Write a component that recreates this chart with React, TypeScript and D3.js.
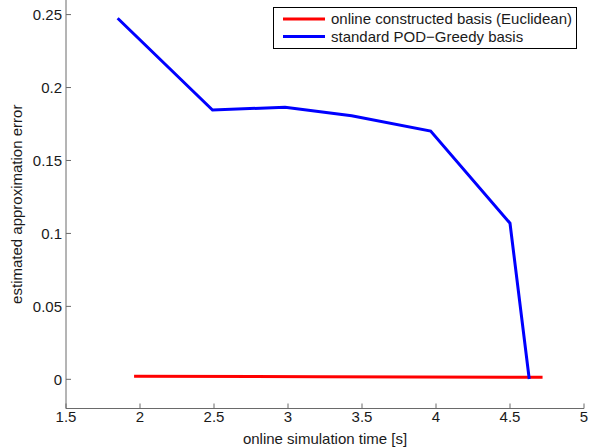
import React from "react";
import * as d3 from "d3";

const blueX = [1.849, 2.49, 2.98, 3.43, 3.964, 4.5, 4.63];
const blueY = [0.2475, 0.1846, 0.1865, 0.1807, 0.1702, 0.107, 0.0002];
const redX = [1.96, 3.22, 4.72];
const redY = [0.0021, 0.0018, 0.0014];
const xTicks = [1.5, 2, 2.5, 3, 3.5, 4, 4.5, 5];
const yTicks = [0, 0.05, 0.1, 0.15, 0.2, 0.25];
const seriesNames = ["online constructed basis (Euclidean)", "standard POD\u2212Greedy basis"];
const seriesColors = ["#ff0000", "#0000ff"];

const W = 601;
const H = 448;
const FONT = "'Liberation Sans', Arial, Helvetica, sans-serif";

export default function App() {
  const x = d3.scaleLinear().domain([1.5, 5]).range([66, 584]);
  const y = d3.scaleLinear().domain([-0.02, 0.26]).range([408.5, 0]);
  const line = d3
    .line<[number, number]>()
    .x((d) => x(d[0]))
    .y((d) => y(d[1]));
  const red: [number, number][] = redX.map((v, i) => [v, redY[i]]);
  const blue: [number, number][] = blueX.map((v, i) => [v, blueY[i]]);
  const axisColor = "#6a6a6a";
  const textColor = "#1a1a1a";
  const x0 = x(1.5);
  const yb = y(-0.02);
  const fmt = (v: number) => String(v);

  return (
    <svg
      width={W}
      height={H}
      style={{ position: "absolute", left: 0, top: 0, background: "#fff" }}
      fontFamily={FONT}
    >
      <rect x={0} y={0} width={W} height={H} fill="#fff" />
      {/* axes */}
      <line x1={x0} y1={yb} x2={x(5)} y2={yb} stroke={axisColor} strokeWidth={1} />
      <line x1={x0} y1={yb} x2={x0} y2={0} stroke={axisColor} strokeWidth={1} />
      {xTicks.map((t) => (
        <g key={"xt" + t}>
          <line x1={x(t)} x2={x(t)} y1={yb} y2={yb - 5} stroke={axisColor} />
          <text x={x(t)} y={422} textAnchor="middle" fontSize={15} fill={textColor}>
            {fmt(t)}
          </text>
        </g>
      ))}
      {yTicks.map((t) => (
        <g key={"yt" + t}>
          <line x1={x0} x2={x0 + 5} y1={y(t)} y2={y(t)} stroke={axisColor} />
          <text
            x={x0 - 4}
            y={y(t)}
            dy="0.36em"
            textAnchor="end"
            fontSize={15}
            fill={textColor}
          >
            {fmt(t)}
          </text>
        </g>
      ))}
      <text x={325} y={444} textAnchor="middle" fontSize={15} fill={textColor}>
        online simulation time [s]
      </text>
      <text
        transform={`translate(22, ${yb / 2}) rotate(-90)`}
        textAnchor="middle"
        fontSize={15}
        fill={textColor}
      >
        estimated approximation error
      </text>
      {/* series */}
      <path d={line(red) || ""} fill="none" stroke={seriesColors[0]} strokeWidth={3} strokeLinejoin="miter" />
      <path d={line(blue) || ""} fill="none" stroke={seriesColors[1]} strokeWidth={3} strokeLinejoin="miter" />
      {/* legend */}
      <rect x={273.5} y={7.5} width={303} height={41} fill="#fff" stroke="#000" strokeWidth={1} />
      {seriesNames.map((name, i) => (
        <g key={name}>
          <line
            x1={283}
            x2={325}
            y1={19 + i * 17.5}
            y2={19 + i * 17.5}
            stroke={seriesColors[i]}
            strokeWidth={3}
          />
          <text x={331} y={19 + i * 17.5} dy="0.36em" fontSize={15} fill={textColor}>
            {name}
          </text>
        </g>
      ))}
    </svg>
  );
}
